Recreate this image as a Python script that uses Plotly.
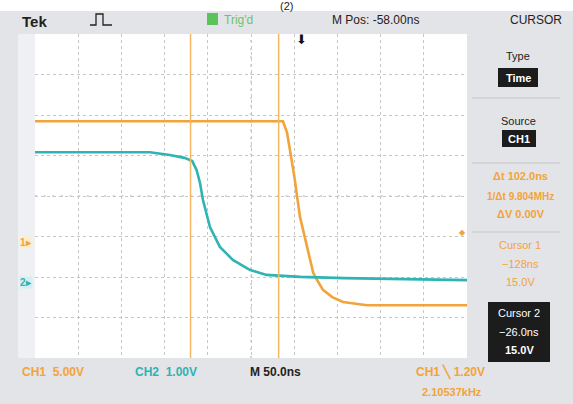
import plotly.graph_objects as go

# ---- data (time in ns, volts) ----
ch1_t = [-308, -250, -200, -150, -100, -50, -21, -16.3, -8, -1.3, 5, 10.3, 14, 18, 25.3, 36, 48.5, 76.3, 120, 192]
ch1_v = [14.9, 14.9, 14.9, 14.9, 14.9, 14.9, 14.9, 13.5, 8.2, 3.1, 0.25, -2.2, -3.8, -4.6, -5.9, -6.8, -7.4, -7.8, -7.8, -7.8]

ch2_t = [-308, -250, -200, -175, -152, -135, -126, -121, -117, -113.6, -105.5, -94, -79, -59, -40, -20, -1, 50, 100, 150, 192]
ch2_v = [3.23, 3.23, 3.23, 3.23, 3.16, 3.09, 3.01, 2.79, 2.47, 2.05, 1.38, 0.89, 0.57, 0.32, 0.20, 0.17, 0.15, 0.12, 0.10, 0.08, 0.07]

cursor_times = [-128, -26.0]
trigger_time = 0
trigger_level = 1.20
x_range = [-308, 192]
ch1_range = [-14.32, 25.68]
ch2_range = [-1.852, 6.148]
time_per_div = 50
ch1_per_div = 5
ch2_per_div = 1

ORANGE = "#f2a33a"
CYAN = "#2fb3b3"
CURS = "#f5b860"
BG = "#e3e4e7"
FONT = "Liberation Sans"

W, H = 573, 404
L, R, T, B = 35, 467, 34, 358


def px(x):
    return (x - L) / (R - L)


def py(y):
    return (B - y) / (B - T)


fig = go.Figure()
fig.add_trace(go.Scatter(x=ch2_t, y=ch2_v, yaxis="y2", mode="lines",
                         line=dict(color=CYAN, width=2.6), hoverinfo="skip"))
fig.add_trace(go.Scatter(x=ch1_t, y=ch1_v, yaxis="y", mode="lines",
                         line=dict(color=ORANGE, width=2.6), hoverinfo="skip"))

shapes = []
annots = []

# white caption band and left strip
shapes.append(dict(type="rect", xref="paper", yref="paper", x0=px(0), x1=px(W), y0=py(11), y1=py(-5),
                   fillcolor="white", line_width=0, layer="below"))
shapes.append(dict(type="rect", xref="paper", yref="paper", x0=px(18), x1=px(35), y0=py(B), y1=py(T),
                   fillcolor="#eef0f3", line_width=0, layer="below"))

# center graticule lines with minor ticks
shapes.append(dict(type="line", xref="paper", yref="paper", x0=0, x1=1, y0=0.5, y1=0.5,
                   line=dict(color="#a9a9a9", width=1, dash="2px,6.64px"), layer="below"))
shapes.append(dict(type="line", xref="paper", yref="paper", x0=0.5, x1=0.5, y0=0, y1=1,
                   line=dict(color="#a9a9a9", width=1, dash="2px,6.1px"), layer="below"))

# cursors
for ct in cursor_times:
    shapes.append(dict(type="line", xref="x", yref="paper", x0=ct, x1=ct, y0=0, y1=1,
                       line=dict(color=CURS, width=1.5)))

# header pulse icon
shapes.append(dict(type="path", xref="paper", yref="paper",
                   path=f"M {px(90)},{py(25)} L {px(96)},{py(25)} L {px(96)},{py(14)} L {px(103)},{py(14)} "
                        f"L {px(103)},{py(25)} L {px(112)},{py(25)}",
                   line=dict(color="#222", width=1.3)))
# green trig square
shapes.append(dict(type="rect", xref="paper", yref="paper", x0=px(207), x1=px(218), y0=py(25), y1=py(13),
                   fillcolor="#5cc25a", line_width=0))

# right panel separators
for yy in [98, 163, 232]:
    shapes.append(dict(type="line", xref="paper", yref="paper", x0=px(472), x1=px(560), y0=py(yy), y1=py(yy),
                       line=dict(color="#c4c4c4", width=1)))
# black boxes
for (x0, x1, y0, y1) in [(498, 538, 68, 87), (502, 536, 130, 147), (488, 550, 302, 362)]:
    shapes.append(dict(type="rect", xref="paper", yref="paper", x0=px(x0), x1=px(x1), y0=py(y1), y1=py(y0),
                       fillcolor="#1c1c1c", line_width=0))


def text(x, y, s, color="#222", size=11, bold=False, anchor="center", bg=None):
    if bold:
        s = f"<b>{s}</b>"
    d = dict(xref="paper", yref="paper", x=px(x), y=py(y), text=s, showarrow=False,
             xanchor=anchor, yanchor="middle", font=dict(family=FONT, size=size, color=color))
    if bg:
        d["bgcolor"] = bg
        d["borderpad"] = 0
    annots.append(d)


text(286, 6, "(2)", color="#222", size=11)
text(20, 21, "Tek", size=15, bold=True, anchor="left")
text(222, 20, "Trig'd", color="#6cc46a", size=12, anchor="left")
text(330, 20, "M Pos: -58.00ns", size=12, anchor="left")
text(536, 20, "CURSOR", size=12)

text(518, 56, "Type", size=11)
text(518, 78, "Time", color="white", size=11, bold=True)
text(518, 121, "Source", size=11)
text(519, 139, "CH1", color="white", size=11, bold=True)
text(520, 176, "Δt 102.0ns", color=ORANGE, size=11, bold=True)
text(520, 196, "1/Δt 9.804MHz", color=ORANGE, size=10, bold=True)
text(521, 214, "ΔV 0.00V", color=ORANGE, size=11, bold=True)
text(520, 245, "Cursor 1", color=ORANGE, size=11)
text(520, 264, "−128ns", color=ORANGE, size=11)
text(520, 282, "15.0V", color=ORANGE, size=11)
text(519, 313, "Cursor 2", color="white", size=11)
text(519, 332, "−26.0ns", color="white", size=11)
text(519, 350, "15.0V", color="white", size=11, bold=True)

text(20, 372, "CH1  5.00V", color=ORANGE, size=12, bold=True, anchor="left")
text(133, 372, "CH2  1.00V", color=CYAN, size=12, bold=True, anchor="left")
text(248, 372, "M 50.0ns", color="#222", size=12, bold=True, anchor="left")
text(414, 372, "CH1 ╲ 1.20V", color=ORANGE, size=12, bold=True, anchor="left")
text(420, 392, "2.10537kHz", color=ORANGE, size=11, bold=True, anchor="left")

# channel ground markers
annots.append(dict(xref="paper", yref="y", x=px(19), y=0, text="<b>1▸</b>", showarrow=False,
                   xanchor="left", yanchor="middle", font=dict(family=FONT, size=10, color=ORANGE),
                   bgcolor="#fbefd2", borderpad=0))
annots.append(dict(xref="paper", yref="y2", x=px(19), y=0, text="<b>2▸</b>", showarrow=False,
                   xanchor="left", yanchor="middle", font=dict(family=FONT, size=10, color=CYAN),
                   bgcolor="#d8eff1", borderpad=0))
# trigger position and level
annots.append(dict(xref="x", yref="paper", x=trigger_time, y=py(40), text="⬇", showarrow=False,
                   xanchor="center", yanchor="middle", font=dict(family="DejaVu Sans", size=13, color="#111")))
annots.append(dict(xref="paper", yref="y", x=px(462), y=trigger_level, text="◆", showarrow=False,
                   xanchor="center", yanchor="middle", font=dict(family="DejaVu Sans", size=8, color=ORANGE)))

grid = dict(showgrid=True, gridcolor="#c6c6c6", griddash="dot", gridwidth=1,
            zeroline=False, showticklabels=False, ticks="", showline=False, fixedrange=True)

fig.update_layout(
    width=W, height=H,
    margin=dict(l=L, r=W - R, t=T, b=H - B, pad=0),
    paper_bgcolor=BG, plot_bgcolor="white",
    showlegend=False,
    xaxis=dict(range=x_range, tick0=x_range[0], dtick=time_per_div, **grid),
    yaxis=dict(range=ch1_range, tick0=ch1_range[0], dtick=ch1_per_div, **grid),
    yaxis2=dict(range=ch2_range, overlaying="y", showgrid=False, zeroline=False,
                showticklabels=False, ticks="", fixedrange=True),
    shapes=shapes,
    annotations=annots,
)

fig.write_html("out.html", config={"displayModeBar": False},
               post_script="document.body.style.margin='0';document.body.style.overflow='hidden';")
